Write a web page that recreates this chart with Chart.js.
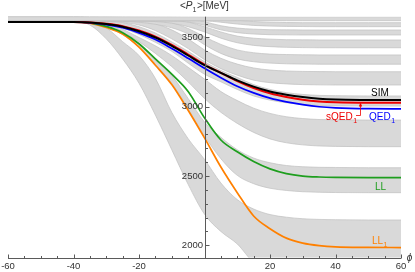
<!DOCTYPE html>
<html><head><meta charset="utf-8">
<script src="https://cdn.jsdelivr.net/npm/chart.js@4/dist/chart.umd.min.js"></script>
<style>html,body{margin:0;padding:0;background:#fff}#c{display:block}</style>
</head><body>
<canvas id="c" width="415" height="272"></canvas>
<script>
// ---- data ----
const phi = [-60,-50,-40,-35,-30,-25,-20,-15,-10,-5,0,5,10,15,20,25,30,35,40,50,60];

const sim  = [3612,3612,3612,3608,3597,3578,3545,3500,3440,3370,3300,3245,3190,3145,3110,3087,3070,3058,3052,3049,3048];
const sqed = [3612,3612,3612,3609,3599,3582,3550,3506,3447,3377,3305,3245,3185,3135,3097,3070,3050,3038,3032,3029,3029];
const qed  = [3612,3612,3612,3606,3593,3570,3533,3485,3420,3350,3278,3210,3148,3100,3062,3035,3015,3000,2992,2986,2985];
const ll   = [3612,3612,3612,3605,3580,3535,3455,3345,3235,3110,2920,2760,2675,2605,2552,2518,2500,2493,2490,2488,2488];
const ll1  = [3612,3612,3612,3603,3572,3525,3430,3300,3160,2975,2775,2565,2380,2212,2120,2052,2016,1998,1989,1985,1984];

const b1U = [3650,3650,3650,3650,3650,3650,3650,3650,3650,3650,3650,3650,3650,3650,3650,3650,3650,3650,3650,3650,3650];
const b1L = [3621,3621,3621,3621,3621,3621,3621,3621,3621,3621,3621,3621,3621,3621,3621,3621,3621,3621,3621,3621,3621];
const b2U = [3650,3650,3650,3650,3650,3650,3650,3650,3650,3650,3648,3638,3625,3615,3610,3608,3607,3607,3607,3607,3607];
const b2L = [3620,3620,3620,3620,3620,3620,3620,3620,3620,3621,3620,3610,3597,3587,3582,3580,3579,3578,3578,3578,3578];
const b3U = [3650,3650,3650,3650,3650,3650,3650,3650,3648,3640,3614,3585,3568,3560,3556,3555,3554,3554,3554,3554,3554];
const b3L = [3620,3620,3620,3620,3620,3620,3620,3620,3619,3612,3588,3555,3535,3525,3520,3519,3518,3518,3518,3518,3518];
const b4U = [3650,3650,3650,3650,3650,3650,3649,3645,3635,3612,3578,3540,3510,3495,3488,3484,3483,3482,3482,3482,3482];
const b4L = [3620,3620,3620,3620,3620,3620,3619,3615,3603,3578,3540,3495,3462,3443,3434,3429,3427,3426,3426,3426,3426];
const b5U = [3650,3650,3650,3650,3649,3647,3642,3630,3608,3565,3505,3450,3410,3390,3380,3377,3375,3374,3374,3374,3374];
const b5L = [3620,3620,3620,3620,3619,3616,3610,3595,3570,3525,3448,3385,3345,3325,3315,3310,3308,3307,3307,3307,3307];
const b6U = [3650,3650,3650,3650,3648,3642,3628,3600,3555,3490,3410,3350,3308,3280,3265,3258,3255,3254,3253,3253,3253];
const b6L = [3620,3620,3620,3619,3616,3608,3590,3550,3490,3420,3340,3275,3228,3192,3174,3165,3160,3158,3157,3157,3157];
const b7U = [3650,3650,3650,3648,3638,3608,3578,3532,3468,3400,3325,3262,3212,3160,3125,3102,3089,3082,3080,3078,3078];
const b7L = [3620,3620,3620,3614,3602,3568,3522,3465,3400,3315,3235,3180,3125,3078,3048,3029,3016,3009,3006,3005,3005];
const b8U = [3650,3650,3650,3645,3625,3560,3500,3440,3370,3285,3200,3110,3045,2990,2952,2928,2915,2908,2906,2904,2904];
const b8L = [3620,3620,3620,3614,3600,3540,3470,3385,3290,3180,3060,2960,2880,2815,2768,2740,2725,2717,2714,2712,2712];
const b9U = [3650,3650,3650,3638,3600,3530,3450,3335,3225,3060,2890,2780,2690,2630,2596,2576,2567,2563,2562,2560,2560];
const b9L = [3620,3620,3620,3610,3580,3520,3430,3305,3170,2985,2790,2625,2505,2445,2412,2396,2387,2383,2381,2380,2380];
const b10U = [3650,3650,3650,3628,3570,3470,3370,3205,2960,2770,2620,2450,2330,2262,2222,2203,2192,2187,2185,2183,2183];
const b10L = [3620,3620,3620,3590,3490,3345,3170,2940,2690,2440,2225,2100,2010,1880,1850,1840,1840,1840,1840,1840,1840];

const xTickLabels = [-60,-40,-20,20,40,60];
const yTickLabels = [2000,2500,3000,3500];

// ---- chart ----
const X_MIN = -60, X_MAX = 60, Y_MIN = 1910, Y_MAX = 3650;
const pts = arr => arr.map((v,i)=>({x:phi[i], y:v}));

const bandFill = 'rgb(217,217,217)';
const bandEdge = 'rgb(192,192,192)';
const bands = [[b1L,b1U],[b2L,b2U],[b3L,b3U],[b4L,b4U],[b5L,b5U],[b6L,b6U],[b7L,b7U],[b8L,b8U],[b9L,b9U],[b10L,b10U]];

const datasets = [
  {data: pts(sim),  borderColor:'#000000', borderWidth:2,   order:0},
  {data: pts(sqed), borderColor:'#ee0000', borderWidth:2,   order:1},
  {data: pts(qed),  borderColor:'#0000ff', borderWidth:1.7, order:2},
  {data: pts(ll),   borderColor:'#1e9e1e', borderWidth:1.7, order:3},
  {data: pts(ll1),  borderColor:'#ff8000', borderWidth:1.7, order:4},
];
bands.forEach(([lo,hi])=>{
  datasets.push({data: pts(lo), borderColor:bandEdge, borderWidth:0.7, fill:false, order:100});
  datasets.push({data: pts(hi), borderColor:bandEdge, borderWidth:0.7, backgroundColor:bandFill, fill:'-1', order:100});
});
datasets.forEach(d=>{ d.pointRadius=0; d.cubicInterpolationMode='monotone'; if(d.fill===undefined) d.fill=false; });

const FONT = '"Liberation Sans", Arial, sans-serif';

function subText(ctx, main, sub, x, y, color, size){
  ctx.fillStyle = color;
  ctx.textAlign='left'; ctx.textBaseline='alphabetic';
  ctx.font = size+'px '+FONT;
  ctx.fillText(main, x, y);
  const w = ctx.measureText(main).width;
  ctx.font = (size*0.7)+'px '+FONT;
  ctx.fillText(sub, x+w+0.5, y+2.5);
}

const axesPlugin = {
  id:'axes',
  afterDatasetsDraw(chart){
    const {ctx, scales:{x, y}} = chart;
    const x0 = Math.round(x.getPixelForValue(0))+0.5;
    const yb = Math.round(y.getPixelForValue(Y_MIN))+0.5;
    const yt = y.getPixelForValue(Y_MAX);
    ctx.save();
    ctx.strokeStyle='#5a5a5a'; ctx.lineWidth=1;
    ctx.beginPath();
    ctx.moveTo(x.getPixelForValue(X_MIN), yb); ctx.lineTo(x.getPixelForValue(X_MAX), yb);
    ctx.moveTo(x0, yb); ctx.lineTo(x0, yt);
    for(let v=X_MIN; v<=X_MAX; v+=5){
      const px = Math.round(x.getPixelForValue(v))+0.5;
      const len = (v%20===0)?4:2.5;
      ctx.moveTo(px, yb); ctx.lineTo(px, yb-len);
    }
    for(let v=2000; v<=3600; v+=100){
      const py = Math.round(y.getPixelForValue(v))+0.5;
      const len = (v%500===0)?4:2.5;
      ctx.moveTo(x0, py); ctx.lineTo(x0+len, py);
    }
    ctx.stroke();
    ctx.fillStyle='#333';
    ctx.font='9.5px '+FONT;
    ctx.textAlign='center'; ctx.textBaseline='top';
    xTickLabels.forEach(v=>ctx.fillText(String(v), x.getPixelForValue(v), yb+3));
    ctx.textAlign='right'; ctx.textBaseline='middle';
    yTickLabels.forEach(v=>ctx.fillText(String(v), x0-2.5, y.getPixelForValue(v)));
    ctx.font='italic 10px '+FONT; ctx.textAlign='center'; ctx.textBaseline='middle';
    ctx.fillText('\u03d5', 409.5, yb-0.5);
    ctx.textBaseline='alphabetic'; ctx.textAlign='left';
    let tx = 180, ty = 9;
    ctx.font='10px '+FONT; ctx.fillText('<', tx, ty); tx += ctx.measureText('<').width;
    ctx.font='italic 10px '+FONT; ctx.fillText('P', tx, ty); tx += ctx.measureText('P').width;
    ctx.font='7px '+FONT; ctx.fillText('1', tx, ty+2.5); tx += ctx.measureText('1').width+0.5;
    ctx.font='10px '+FONT; ctx.fillText('>[MeV]', tx, ty);
    ctx.font='10px '+FONT; ctx.fillStyle='#000'; ctx.textAlign='center';
    ctx.fillText('SIM', 380, 96);
    subText(ctx,'sQED','1',326,120,'#ee0000',10);
    subText(ctx,'QED','1',369,120,'#0000ff',10);
    subText(ctx,'LL','',375,190,'#1e9e1e',10);
    subText(ctx,'LL','1',372,244,'#ff8000',10);
    ctx.strokeStyle='#ee0000'; ctx.lineWidth=0.8;
    ctx.beginPath(); ctx.moveTo(356,115.5); ctx.lineTo(360.5,115.5); ctx.lineTo(360.5,104.5); ctx.stroke();
    ctx.fillStyle='#ee0000';
    ctx.beginPath(); ctx.moveTo(360.5,102.5); ctx.lineTo(358.8,106.5); ctx.lineTo(362.2,106.5); ctx.closePath(); ctx.fill();
    ctx.restore();
  }
};

new Chart(document.getElementById('c'), {
  type:'line',
  data:{datasets},
  options:{
    responsive:false, animation:false, devicePixelRatio:1,
    layout:{padding:{left:8, right:14, top:16.7, bottom:14.2}},
    plugins:{legend:{display:false}, tooltip:{enabled:false}},
    scales:{
      x:{type:'linear', min:X_MIN, max:X_MAX, display:false},
      y:{type:'linear', min:Y_MIN, max:Y_MAX, display:false}
    }
  },
  plugins:[axesPlugin]
});
</script>
</body></html>
